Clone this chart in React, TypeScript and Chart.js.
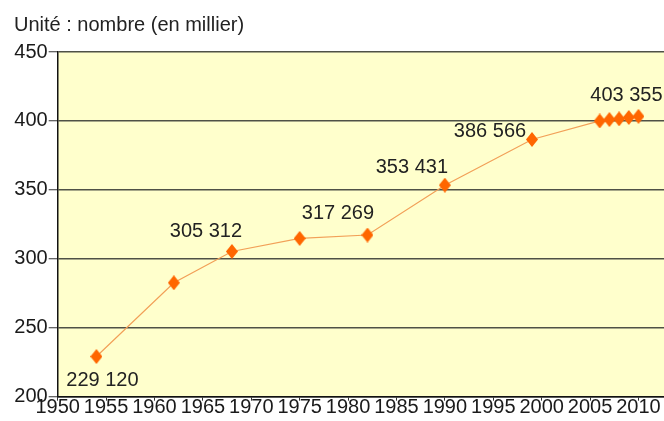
import React, { useEffect, useRef } from "react";
import { Chart, registerables } from "chart.js";

Chart.register(...registerables);

// ---- data ----
const years = [1954, 1962, 1968, 1975, 1982, 1990, 1999, 2006, 2007, 2008, 2009, 2010];
const values = [229.12, 282.6, 305.312, 314.8, 317.269, 353.431, 386.566, 400.0, 401.0, 401.5, 402.5, 403.355];
const labeledIndices = [0, 2, 4, 5, 6, 11];
const yTickValues = [200, 250, 300, 350, 400, 450];
const xTickYears = [1950, 1955, 1960, 1965, 1970, 1975, 1980, 1985, 1990, 1995, 2000, 2005, 2010];
const unitText = "Unité : nombre (en millier)";

// ---- style ----
const FONT = "'Liberation Sans', Arial, sans-serif";
const FS = 20;
const labelOffsets: Record<number, [number, number]> = {
  0: [6, 24],
  2: [-26, -20.5],
  4: [-29.5, -21.5],
  5: [-33, -17.7],
  6: [-42, -7.5],
  11: [-12, -21],
};

function fmt(v: number): string {
  const s = String(Math.round(v * 1000));
  return s.replace(/\B(?=(\d{3})+(?!\d))/g, " ");
}

function makeDiamond(): HTMLCanvasElement {
  const c = document.createElement("canvas");
  const w = 12;
  const h = 15;
  c.width = w;
  c.height = h;
  const ctx = c.getContext("2d")!;
  ctx.fillStyle = "#FF6600";
  ctx.beginPath();
  ctx.moveTo(w / 2, 0);
  ctx.lineTo(w, h / 2);
  ctx.lineTo(w / 2, h);
  ctx.lineTo(0, h / 2);
  ctx.closePath();
  ctx.fill();
  return c;
}

const decorPlugin = {
  id: "decor",
  beforeDraw(chart: any) {
    const { ctx, chartArea } = chart;
    ctx.save();
    ctx.fillStyle = "#FFFFCC";
    ctx.fillRect(chartArea.left, chartArea.top, chartArea.right - chartArea.left, chartArea.bottom - chartArea.top);
    ctx.restore();
  },
  afterDraw(chart: any) {
    const { ctx } = chart;
    ctx.save();
    ctx.fillStyle = "#222222";
    ctx.font = `${FS}px ${FONT}`;
    ctx.textAlign = "left";
    ctx.textBaseline = "alphabetic";
    ctx.fillText(unitText, 14, 31);

    const meta = chart.getDatasetMeta(0);
    ctx.textAlign = "center";
    ctx.textBaseline = "middle";
    labeledIndices.forEach((i) => {
      const pt = meta.data[i];
      if (!pt) return;
      const off = labelOffsets[i] || [0, -20];
      ctx.fillText(fmt(values[i]), pt.x + off[0], pt.y + off[1]);
    });
    ctx.restore();
  },
};

export default function App() {
  const ref = useRef<HTMLCanvasElement | null>(null);

  useEffect(() => {
    if (!ref.current) return;
    const diamond = makeDiamond();
    const chart = new Chart(ref.current, {
      type: "line",
      data: {
        datasets: [
          {
            data: years.map((y, i) => ({ x: y, y: values[i] })),
            borderColor: "#F2A058",
            borderWidth: 1.2,
            pointStyle: diamond as any,
            pointRadius: 6,
            pointBackgroundColor: "#FF6600",
            pointBorderColor: "#FF6600",
            tension: 0,
          },
        ],
      },
      options: {
        responsive: false,
        animation: false,
        events: [],
        layout: { padding: { top: 52, left: 0, right: 12.5, bottom: 0 } },
        plugins: {
          legend: { display: false },
          tooltip: { enabled: false },
          title: { display: false },
        },
        scales: {
          x: {
            type: "linear",
            min: 1950,
            max: 2013,
            afterFit: (s: any) => {
              s.height = 24.3;
            },
            afterBuildTicks: (s: any) => {
              s.ticks = xTickYears.map((v) => ({ value: v }));
            },
            ticks: {
              stepSize: 5,
              includeBounds: false,
              autoSkip: false,
              maxRotation: 0,
              color: "#1a1a1a",
              font: { family: FONT, size: FS, lineHeight: 1 },
              padding: -3,
              callback: (v: any) => String(v),
            },
            grid: {
              drawOnChartArea: false,
              drawTicks: true,
              tickLength: 4,
              tickColor: "#333333",
              tickWidth: 1,
            },
            border: { display: true, color: "#111111", width: 1.5 },
          },
          y: {
            type: "linear",
            min: 200,
            max: 450,
            afterFit: (s: any) => {
              s.width = 57.7;
            },
            afterBuildTicks: (s: any) => {
              s.ticks = yTickValues.map((v) => ({ value: v }));
            },
            ticks: {
              stepSize: 50,
              color: "#1a1a1a",
              font: { family: FONT, size: FS, lineHeight: 1 },
              padding: 1,
              callback: (v: any) => String(v),
            },
            grid: {
              color: "#4f5146",
              lineWidth: 1.5,
              drawTicks: true,
              tickLength: 9,
              tickColor: "#333333",
              tickWidth: 1,
            },
            border: { display: true, color: "#111111", width: 1.5 },
          },
        },
      },
      plugins: [decorPlugin],
    });
    return () => chart.destroy();
  }, []);

  return (
    <div
      style={{
        position: "fixed",
        left: 0,
        top: 0,
        width: 664,
        height: 421,
        overflow: "hidden",
        background: "#ffffff",
      }}
    >
      <canvas ref={ref} width={680} height={421} style={{ width: 680, height: 421, display: "block" }} />
    </div>
  );
}
